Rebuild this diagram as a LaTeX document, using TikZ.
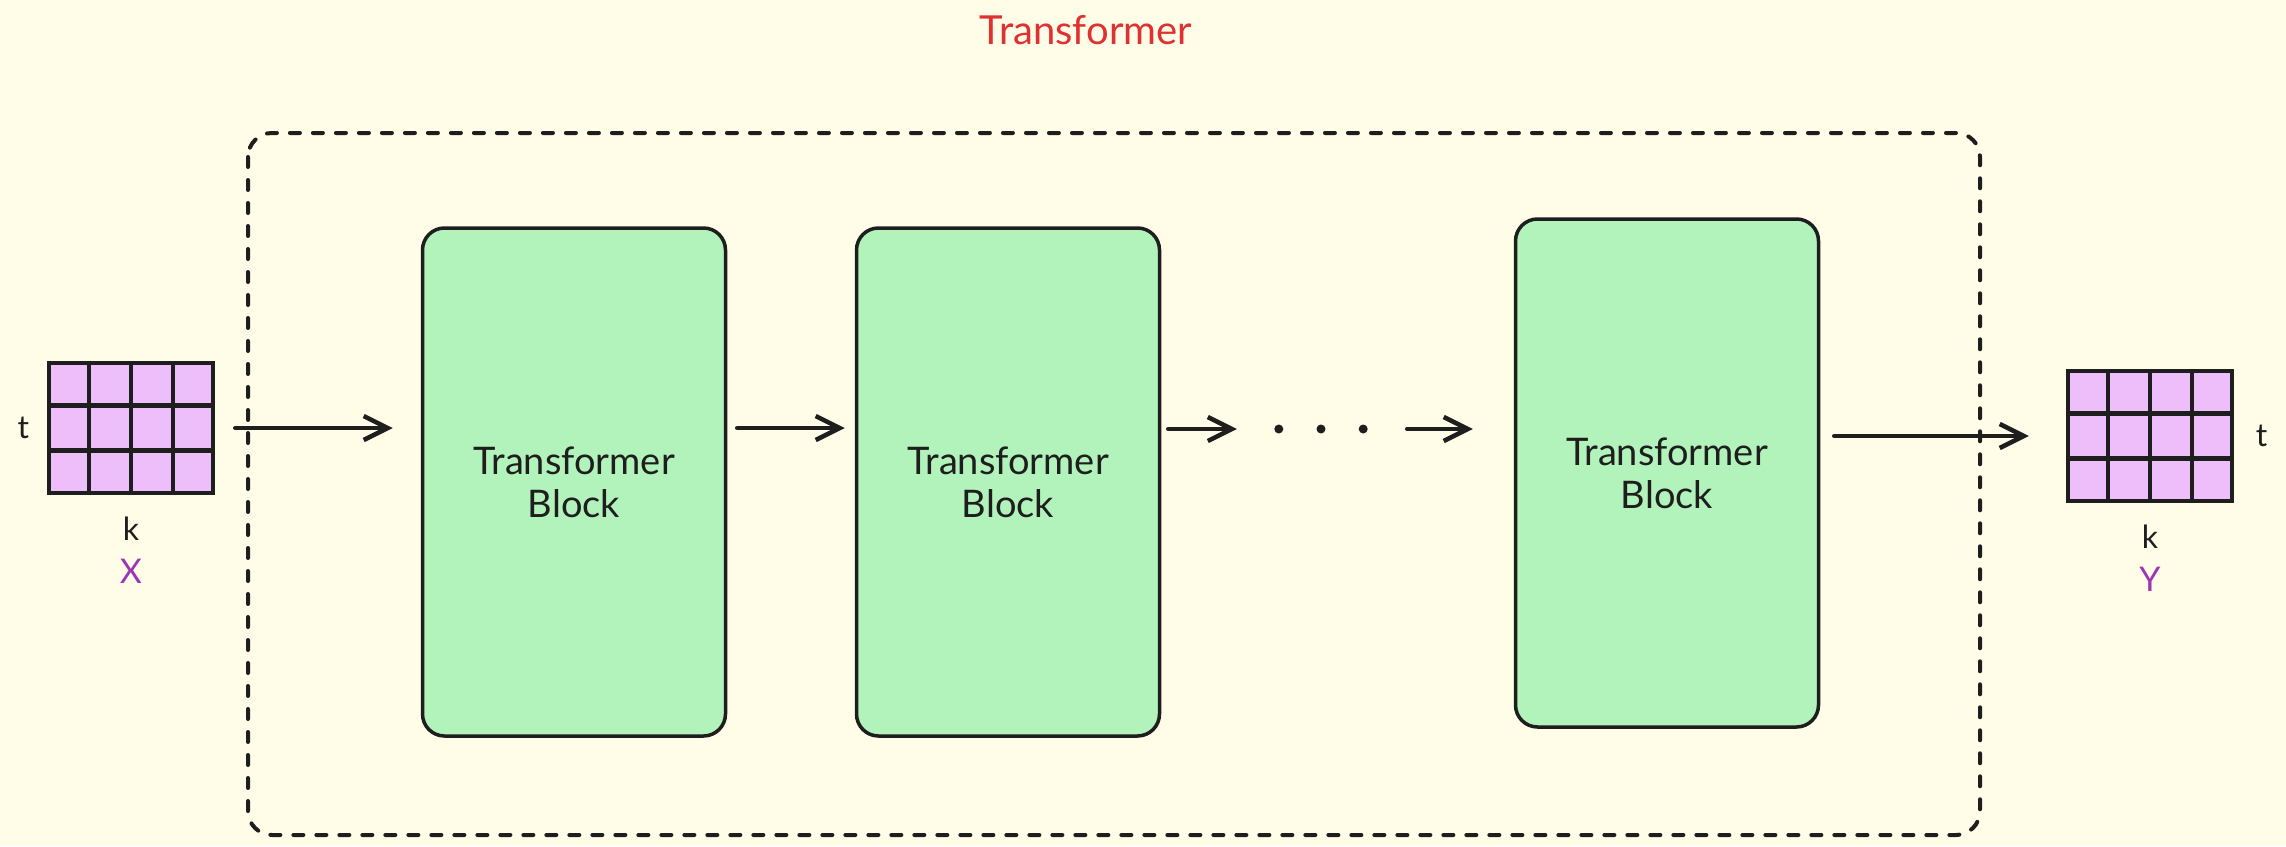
\documentclass[tikz,border=0pt]{standalone}
\usepackage{fontspec}
\setmainfont{Lato}
\usetikzlibrary{arrows.meta,positioning,calc}
\definecolor{paper}{HTML}{FFFDE8}
\definecolor{blockgreen}{HTML}{B2F2BB}
\definecolor{cellpurple}{HTML}{EEBEFA}
\definecolor{titlered}{HTML}{E03131}
\definecolor{labelpurple}{HTML}{9C36B5}
\definecolor{ink}{HTML}{1E1E1E}

\begin{document}
\begin{tikzpicture}[x=1pt,y=-1pt,
                    block/.style={draw=ink,fill=blockgreen,line width=3.5pt,rounded corners=22pt,
                                  minimum width=303pt,minimum height=508pt,align=center,
                                  text=ink,font=\fontsize{38}{43}\selectfont},
                    grid/.style={draw=ink,fill=cellpurple,line width=4.5pt,inner sep=0pt,
                                 minimum width=164pt,minimum height=130pt},
                    flow/.style={draw=ink,line width=4.5pt,line cap=round,
                                 -{Straight Barb[length=24pt,width=24pt]}},
                    dim/.style={text=ink,font=\fontsize{32}{32}\selectfont},
                    varlabel/.style={text=labelpurple,font=\fontsize{34}{34}\selectfont}]
  \useasboundingbox (0,0) rectangle (2286,846);
  \fill[paper] (0,0) rectangle (2286,846);

  %title and frame%
  \node[text=titlered,font=\fontsize{40}{40}\selectfont] (title) at (1086,30) {Transformer};
  \draw[ink,line width=4pt,line cap=round,dash pattern=on 10pt off 13pt,rounded corners=24pt]
    (248,133) rectangle (1980,835);

  %input and output%
  \node[grid] (gx) at (131,428) {};
  \node[grid] (gy) at (2150,436) {};
  \foreach \g in {gx,gy} {
    \foreach \i in {1,2,3}
      \draw[ink,line width=4.5pt] ($(\g.north west)!\i/4!(\g.north east)$) -- ($(\g.south west)!\i/4!(\g.south east)$);
    \foreach \j in {1,2}
      \draw[ink,line width=4.5pt] ($(\g.north west)!\j/3!(\g.south west)$) -- ($(\g.north east)!\j/3!(\g.south east)$);
  }
  \node[dim] (tx) [left=14pt of gx] {t};
  \node[dim] (kx) [below=18pt of gx] {k};
  \node[varlabel] (xname) [below=12pt of kx] {X};
  \node[dim] (ty) [right=18pt of gy] {t};
  \node[dim] (ky) [below=18pt of gy] {k};
  \node[varlabel] (yname) [below=12pt of ky] {Y};

  %blocks%
  \node[block] (b1) at (574,482) {Transformer\\Block};
  \node[block] (b2) at (1008,482) {Transformer\\Block};
  \node[block] (b3) at (1667,473) {Transformer\\Block};
  \node[inner sep=0pt,minimum width=84pt] (dots) at (1321,429) {};
  \foreach \a in {west,center,east}
    \fill[ink] (dots.\a) circle (4.5pt);

  \path
    (gx.east) edge[flow,shorten <=20pt,shorten >=28pt] (b1.west |- gx.east)
    (b1.east |- gx.east) edge[flow,shorten <=10pt,shorten >=10pt] (b2.west |- gx.east)
    (b2.east |- dots) edge[flow,shorten <=7pt,shorten >=42pt] (dots.west)
    (dots.east) edge[flow,shorten <=44pt,shorten >=41pt] (b3.west |- dots)
    (b3.east |- gy.west) edge[flow,shorten <=14pt,shorten >=37pt] (gy.west);
\end{tikzpicture}
\end{document}
